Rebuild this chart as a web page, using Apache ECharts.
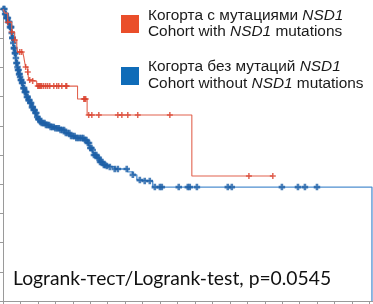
<!DOCTYPE html>
<html><head><meta charset="utf-8">
<script src="https://cdn.jsdelivr.net/npm/echarts@6/dist/echarts.min.js"></script>
<style>html,body{margin:0;padding:0;background:#fff}#c{width:373px;height:304px}</style>
</head><body><div id="c"></div>
<script>
// Tick positions
const xTicks = [0,1,2,3,4,5,6,7,8,9,10,11,12,13,14,15,16,17,18,19,20,21];
const yTicks = [0,0.1,0.2,0.3,0.4,0.5,0.6,0.7,0.8,0.9,1.0];

// Cohort without NSD1 mutations (blue) - KM step points
const blueTimes = [0,0.10,0.19,0.30,0.38,0.48,0.53,0.57,0.61,0.67,0.73,0.77,0.81,0.86,0.90,0.96,1.01,1.06,1.15,1.24,1.34,1.42,1.53,1.65,1.72,1.82,1.92,1.99,2.10,2.22,2.39,2.68,2.96,3.25,3.54,3.82,4.11,4.68,4.86,4.97,5.09,5.20,5.37,5.54,5.72,5.95,6.12,6.40,7.15,7.44,7.67,7.95,8.58,21.14,21.14];
const blueSurv  = [1.0,0.983,0.969,0.955,0.938,0.918,0.901,0.884,0.866,0.849,0.832,0.815,0.801,0.791,0.777,0.767,0.757,0.747,0.729,0.716,0.699,0.688,0.678,0.664,0.654,0.644,0.630,0.623,0.613,0.610,0.603,0.596,0.592,0.586,0.575,0.565,0.558,0.551,0.541,0.524,0.517,0.500,0.490,0.476,0.466,0.462,0.459,0.452,0.442,0.432,0.414,0.411,0.390,0.390,0.0];
const blueCensor = [0.03,0.08,0.12,0.16,0.20,0.24,0.28,0.32,0.36,0.40,0.44,0.47,0.50,0.53,0.56,0.59,0.62,0.65,0.68,0.71,0.74,0.77,0.80,0.83,0.86,0.89,0.92,0.95,0.98,1.02,1.05,1.09,1.13,1.17,1.21,1.25,1.29,1.33,1.37,1.41,1.46,1.51,1.56,1.61,1.66,1.71,1.76,1.81,1.86,1.91,1.96,2.02,2.08,2.15,2.22,2.30,2.38,2.46,2.55,2.64,2.73,2.82,2.91,3.00,3.10,3.20,3.30,3.40,3.50,3.60,3.70,3.80,3.90,4.00,4.10,4.20,4.30,4.40,4.50,4.60,4.70,4.78,4.86,4.93,5.00,5.07,5.14,5.21,5.28,5.35,5.42,5.49,5.56,5.63,5.70,5.78,5.86,5.95,6.12,6.40,6.58,7.09,7.44,7.84,8.12,8.41,8.70,8.99,9.10,10.07,10.59,10.70,11.11,12.88,13.11,15.98,16.90,17.30,17.99];

// Cohort with NSD1 mutations (red)
const redTimes = [0,0.10,0.27,0.50,0.67,0.79,0.84,1.13,1.19,1.24,1.30,1.42,1.47,1.65,1.93,4.27,4.82,10.82,15.46];
const redSurv  = [1.0,0.986,0.955,0.921,0.894,0.870,0.853,0.849,0.836,0.818,0.801,0.784,0.757,0.753,0.736,0.692,0.637,0.428,0.428];
const redCensor = [0.27,0.50,0.67,0.96,1.07,1.30,1.42,1.53,1.70,1.99,2.05,2.10,2.16,2.22,2.33,2.45,2.56,2.68,2.91,3.08,3.19,3.37,3.60,3.65,4.63,4.68,4.74,4.91,5.09,5.49,6.58,6.81,7.15,7.72,9.56,14.09,15.46];

const legendLabels = [
  ['Когорта с мутациями ', 'NSD1', ''],
  ['Cohort with ', 'NSD1', ' mutations'],
  ['Когорта без мутаций ', 'NSD1', ''],
  ['Cohort without ', 'NSD1', ' mutations']
];
const testText = 'Logrank-тест/Logrank-test, p=0.0545';

function survAt(times, surv, t) {
  let s = surv[0];
  for (let i = 0; i < times.length; i++) {
    if (times[i] <= t + 1e-9) { if (surv[i] > 0) s = surv[i]; } else break;
  }
  return s;
}
const pair = (a, b) => a.map((v, i) => [v, b[i]]);
const plusThin = 'path://M3,0H5V3H8V5H5V8H3V5H0V3H3Z';
const plusThick = 'path://M2.4,0H5.6V2.4H8V5.6H5.6V8H2.4V5.6H0V2.4H2.4Z';

const chart = echarts.init(document.getElementById('c'), null, {renderer: 'canvas'});
const txtStyle = (row, y) => ({
  type: 'text', left: 148, top: y,
  style: {
    text: '{n|' + row[0] + '}{i|' + row[1] + '}{n|' + row[2] + '}',
    rich: {
      n: {fontFamily: 'Liberation Sans', fontSize: 15.4, fill: '#1a1a1a'},
      i: {fontFamily: 'Liberation Sans', fontSize: 15.4, fontStyle: 'italic', fill: '#1a1a1a'}
    }
  }
});
chart.setOption({
  animation: false,
  grid: {left: 3, right: 0, top: 9, bottom: 3, containLabel: false},
  xAxis: {
    type: 'value', min: 0, max: 21.2,
    axisLine: {show: true, lineStyle: {color: '#9a9a9a', width: 1}},
    axisTick: {show: true, inside: false, length: 3, customValues: xTicks, lineStyle: {color: '#9a9a9a'}},
    axisLabel: {show: false},
    splitLine: {show: false}
  },
  yAxis: {
    type: 'value', min: 0, max: 1, interval: 0.1,
    axisLine: {show: true, lineStyle: {color: '#9a9a9a', width: 1}},
    axisTick: {show: true, inside: false, length: 3, customValues: yTicks, lineStyle: {color: '#9a9a9a'}},
    axisLabel: {show: false},
    splitLine: {show: false}
  },
  series: [
    {type: 'line', step: 'end', data: pair(blueTimes, blueSurv), showSymbol: false,
     lineStyle: {color: '#4f8fd0', width: 1.3}, z: 2},
    {type: 'scatter', data: blueCensor.map(t => [t, survAt(blueTimes, blueSurv, t)]),
     symbol: plusThick, symbolSize: 6.5, itemStyle: {color: '#1d5fa6'}, z: 3},
    {type: 'line', step: 'end', data: pair(redTimes, redSurv), showSymbol: false,
     lineStyle: {color: '#e2634f', width: 1.1}, z: 4},
    {type: 'scatter', data: redCensor.map(t => [t, survAt(redTimes, redSurv, t)]),
     symbol: plusThin, symbolSize: 6, itemStyle: {color: '#d9402c'}, z: 5}
  ],
  graphic: [
    {type: 'rect', shape: {x: 121, y: 15, width: 18, height: 18}, style: {fill: '#ea4e2a'}},
    {type: 'rect', shape: {x: 121, y: 67, width: 18, height: 18}, style: {fill: '#0f6cb8'}},
    txtStyle(legendLabels[0], 8),
    txtStyle(legendLabels[1], 24.5),
    txtStyle(legendLabels[2], 59.5),
    txtStyle(legendLabels[3], 76),
    {type: 'text', left: 13, top: 269,
     style: {text: testText, fontFamily: 'Lato', fontSize: 19.3, fill: '#111'}}
  ]
});
</script></body></html>
